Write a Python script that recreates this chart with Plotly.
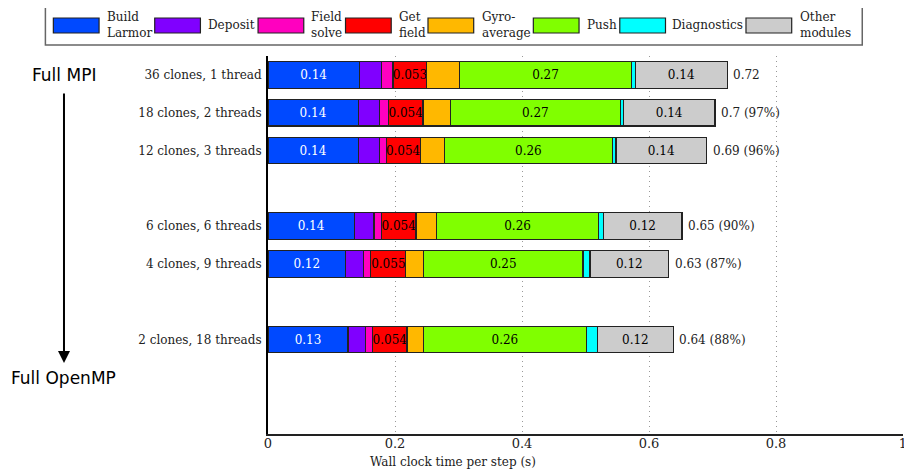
import plotly.graph_objects as go

# ---------------- data ----------------
configs = ["36 clones, 1 thread", "18 clones, 2 threads", "12 clones, 3 threads",
           "6 clones, 6 threads", "4 clones, 9 threads", "2 clones, 18 threads"]
build_larmor = [0.144, 0.142, 0.142, 0.136, 0.122, 0.126]
deposit      = [0.035, 0.034, 0.033, 0.031, 0.028, 0.028]
field_solve  = [0.018, 0.014, 0.011, 0.012, 0.012, 0.011]
get_field    = [0.053, 0.054, 0.054, 0.054, 0.055, 0.054]
gyro_average = [0.052, 0.043, 0.038, 0.032, 0.028, 0.026]
push         = [0.270, 0.268, 0.264, 0.256, 0.251, 0.256]
diagnostics  = [0.007, 0.005, 0.006, 0.007, 0.011, 0.018]
other        = [0.144, 0.144, 0.143, 0.124, 0.124, 0.119]
total_labels = ["0.72", "0.7 (97%)", "0.69 (96%)", "0.65 (90%)", "0.63 (87%)", "0.64 (88%)"]
x_ticks = [0, 0.2, 0.4, 0.6, 0.8, 1]
x_ticktext = ["0", "0.2", "0.4", "0.6", "0.8", "1"]

series = [
    ("Build<br>Larmor", build_larmor, "#0049ff", "white", True),
    ("Deposit", deposit, "#8000ff", "black", False),
    ("Field<br>solve", field_solve, "#ff00bf", "black", False),
    ("Get<br>field", get_field, "#ff0000", "black", True),
    ("Gyro-<br>average", gyro_average, "#ffb800", "black", False),
    ("Push", push, "#80ff00", "black", True),
    ("Diagnostics", diagnostics, "#00ffff", "black", False),
    ("Other<br>modules", other, "#cccccc", "black", True),
]

# row layout (gaps between groups)
row_pos = [0, 1, 2, 4, 5, 7]

# page has an 8px body margin -> figure drawn from (8, 8)
OFF = 8
W, H = 912 - OFF, 470 - OFF
PX0, PX1, PY0, PY1 = 268, 907, 56, 434   # plot area in window pixels
ML, MR, MT, MB = PX0 - OFF, W - (PX1 - OFF), PY0 - OFF, H - (PY1 - OFF)
PW, PH = PX1 - PX0, PY1 - PY0

def px(x):
    return (x - PX0) / PW

def py(y):
    return (PY1 - y) / PH

SERIF = "DejaVu Serif"
SANS = "DejaVu Sans"

fig = go.Figure()
for name, vals, color, tcol, show in series:
    fig.add_trace(go.Bar(
        x=vals, y=row_pos, orientation="h", name=name.replace("<br>", " "),
        width=0.7,
        marker=dict(color=color, line=dict(color="#222", width=1.2)),
        texttemplate="%{x:.2g}" if show else None,
        textposition="inside" if show else "none",
        insidetextanchor="middle", textangle=0, constraintext="none",
        insidetextfont=dict(family=SERIF, size=12, color=tcol),
        cliponaxis=False, showlegend=False,
    ))

# totals at bar ends
for i, r in enumerate(row_pos):
    tot = sum(s[1][i] for s in series)
    fig.add_annotation(x=tot, y=r, xref="x", yref="y", text=total_labels[i],
                       showarrow=False, xanchor="left", yanchor="middle", xshift=4,
                       font=dict(family=SERIF, size=12, color="#222"))

# manual legend
shapes = []
shapes.append(dict(type="rect", xref="paper", yref="paper",
                   x0=px(44), x1=px(866), y0=py(45), y1=py(6),
                   line=dict(color="#666", width=1.5), fillcolor="white"))
leg_rect_x = [52, 154, 258, 346, 429, 535, 622, 749]
leg_text_x = [104, 206, 309, 398, 481, 587, 673, 801]
for (name, vals, color, tcol, show), rx, tx in zip(series, leg_rect_x, leg_text_x):
    shapes.append(dict(type="rect", xref="paper", yref="paper",
                       x0=px(rx), x1=px(rx + 46), y0=py(33), y1=py(18),
                       line=dict(color="#222", width=1.2), fillcolor=color))
    fig.add_annotation(x=px(tx), y=py(25.5), xref="paper", yref="paper",
                       text=name, showarrow=False, xanchor="left", yanchor="middle",
                       align="left", font=dict(family=SERIF, size=12, color="#222"))

# Full MPI -> Full OpenMP arrow
fig.add_annotation(x=px(62.7), y=py(75), xref="paper", yref="paper", text="Full MPI",
                   showarrow=False, xanchor="center", yanchor="middle",
                   font=dict(family=SANS, size=17, color="black"))
fig.add_annotation(x=px(62.5), y=py(378), xref="paper", yref="paper", text="Full OpenMP",
                   showarrow=False, xanchor="center", yanchor="middle",
                   font=dict(family=SANS, size=17, color="black"))
fig.add_annotation(x=px(62.7), y=py(363), xref="paper", yref="paper",
                   ax=0, ay=-(363 - 92), axref="pixel", ayref="pixel",
                   text="", showarrow=True, arrowhead=2, arrowsize=1.2,
                   arrowwidth=2, arrowcolor="black")

# x-axis title
fig.add_annotation(x=px(454), y=py(462), xref="paper", yref="paper",
                   text="Wall clock time per step (s)", showarrow=False,
                   xanchor="center", yanchor="middle",
                   font=dict(family=SERIF, size=12, color="#222"))

fig.update_layout(
    width=W, height=H, margin=dict(l=ML, r=MR, t=MT, b=MB),
    barmode="stack", plot_bgcolor="white", paper_bgcolor="white",
    shapes=shapes, showlegend=False,
    xaxis=dict(range=[0, 1], tickvals=x_ticks, ticktext=x_ticktext,
               showgrid=True, gridcolor="#999", griddash="1px,4px", gridwidth=1,
               zeroline=False, showline=True, linecolor="#222", linewidth=1.5,
               ticks="", ticklabelstandoff=-3,
               tickfont=dict(family=SERIF, size=13, color="#222")),
    yaxis=dict(range=[9.5, -0.5], tickvals=row_pos, ticktext=configs,
               showgrid=False, zeroline=False, showline=True, linecolor="black",
               linewidth=2, ticks="", ticklabelstandoff=2,
               tickfont=dict(family=SERIF, size=12, color="#222")),
)

fig.write_html("out.html")
